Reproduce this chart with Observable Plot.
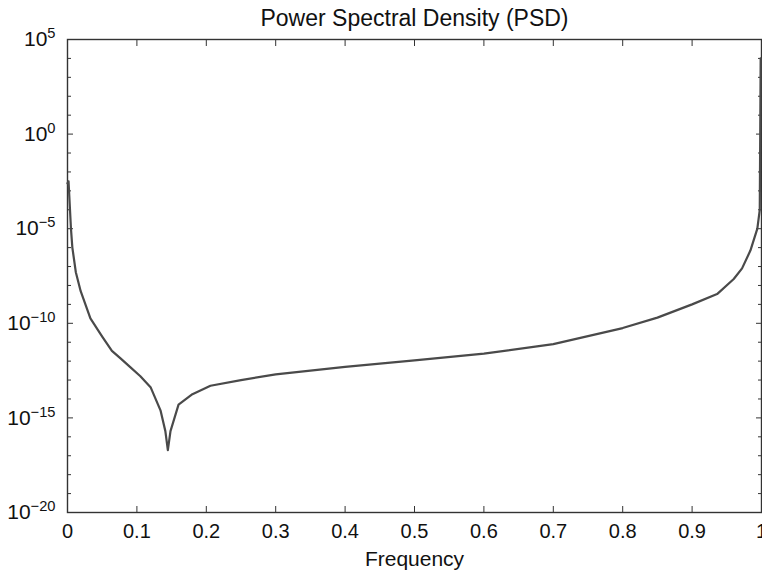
<!DOCTYPE html>
<html>
<head>
<meta charset="utf-8">
<script src="https://cdn.jsdelivr.net/npm/d3@7"></script>
<script src="https://cdn.jsdelivr.net/npm/@observablehq/plot@0.6"></script>
<style>
  html, body { margin: 0; padding: 0; background: #fff; }
  #chart svg { display: block; }
</style>
</head>
<body>
<div id="chart"></div>
<script>
const title = "Power Spectral Density (PSD)";
const xLabel = "Frequency";

const freq = [0, 0.0015, 0.005, 0.007, 0.012, 0.019, 0.033, 0.05, 0.064, 0.0764, 0.09, 0.105, 0.12, 0.134, 0.141, 0.1446, 0.1484, 0.16, 0.18, 0.206, 0.25, 0.3, 0.4, 0.5, 0.6, 0.7, 0.8, 0.85, 0.9, 0.936, 0.96, 0.972, 0.984, 0.994, 0.9975, 0.9988];
const psd = [2.5e-3, 3.2e-3, 1e-5, 1e-6, 5e-8, 5e-9, 1.8e-10, 2e-11, 3.5e-12, 1.4e-12, 5e-13, 1.6e-13, 4e-14, 2.5e-15, 2e-16, 2e-17, 2e-16, 5e-15, 1.8e-14, 5e-14, 1e-13, 2e-13, 5e-13, 1.1e-12, 2.5e-12, 8e-12, 5.6e-11, 2e-10, 1e-9, 3.5e-9, 2.2e-8, 8e-8, 7e-7, 1e-5, 1e-4, 1e4];

const xTicks = [0, 0.1, 0.2, 0.3, 0.4, 0.5, 0.6, 0.7, 0.8, 0.9, 1];
const xTickLabels = ["0", "0.1", "0.2", "0.3", "0.4", "0.5", "0.6", "0.7", "0.8", "0.9", "1"];
const yMajor = [1e5, 1e0, 1e-5, 1e-10, 1e-15, 1e-20];
const yExponents = ["5", "0", "−5", "−10", "−15", "−20"];
const yMinorExp = d3.range(-20, 6).filter(e => e % 5 !== 0);
const yMinor = yMinorExp.map(e => Math.pow(10, e));

const data = freq.map((f, i) => ({f, p: psd[i]}));
const axisColor = "#333";
const blank = () => "";

const chart = Plot.plot({
  width: 762,
  height: 573,
  marginLeft: 67,
  marginRight: 1,
  marginTop: 39,
  marginBottom: 61,
  style: {fontFamily: "'Liberation Sans', Arial, sans-serif", fontSize: "20px", color: "#111", background: "#fff"},
  x: {domain: [0, 1]},
  y: {type: "log", domain: [1e-20, 1e5]},
  marks: [
    Plot.frame({stroke: axisColor, strokeWidth: 1.4}),
    Plot.axisX({anchor: "bottom", ticks: xTicks, tickSize: -6, tickPadding: 17, stroke: axisColor, fontSize: 20,
      tickFormat: d => xTickLabels[xTicks.indexOf(d)] ?? "", label: null, fill: "#111"}),
    Plot.axisX({anchor: "top", ticks: xTicks, tickSize: -6, tickFormat: blank, label: null, stroke: axisColor}),
    Plot.axisY({anchor: "left", ticks: yMajor, tickSize: -6, tickPadding: 18, stroke: axisColor, fontSize: 21,
      tickFormat: d => yExponents[yMajor.indexOf(d)] ?? "", label: null, fill: "#111"}),
    Plot.axisY({anchor: "left", ticks: yMinor, tickSize: -4, tickFormat: blank, label: null, stroke: axisColor}),
    Plot.axisY({anchor: "right", ticks: yMajor, tickSize: -6, tickFormat: blank, label: null, stroke: axisColor}),
    Plot.axisY({anchor: "right", ticks: yMinor, tickSize: -4, tickFormat: blank, label: null, stroke: axisColor}),
    Plot.line(data, {x: "f", y: "p", stroke: "#4a4a4a", strokeWidth: 2.2, curve: "linear"}),
    Plot.text([title], {frameAnchor: "top", lineAnchor: "middle", dy: -21, fontSize: 23, fill: "#111"}),
    Plot.text([xLabel], {frameAnchor: "bottom", lineAnchor: "middle", dy: 47, fontSize: 21, fill: "#111"})
  ]
});

// Turn y tick labels into 10 with superscript exponent
d3.select(chart).selectAll('g[aria-label="y-axis tick label"] text').each(function () {
  const t = d3.select(this);
  const exp = t.text();
  if (!exp) return;
  t.text("");
  t.append("tspan").text("10");
  t.append("tspan").attr("dy", "-0.55em").attr("font-size", "0.7em").text(exp);
});

document.getElementById("chart").appendChild(chart);
</script>
</body>
</html>
